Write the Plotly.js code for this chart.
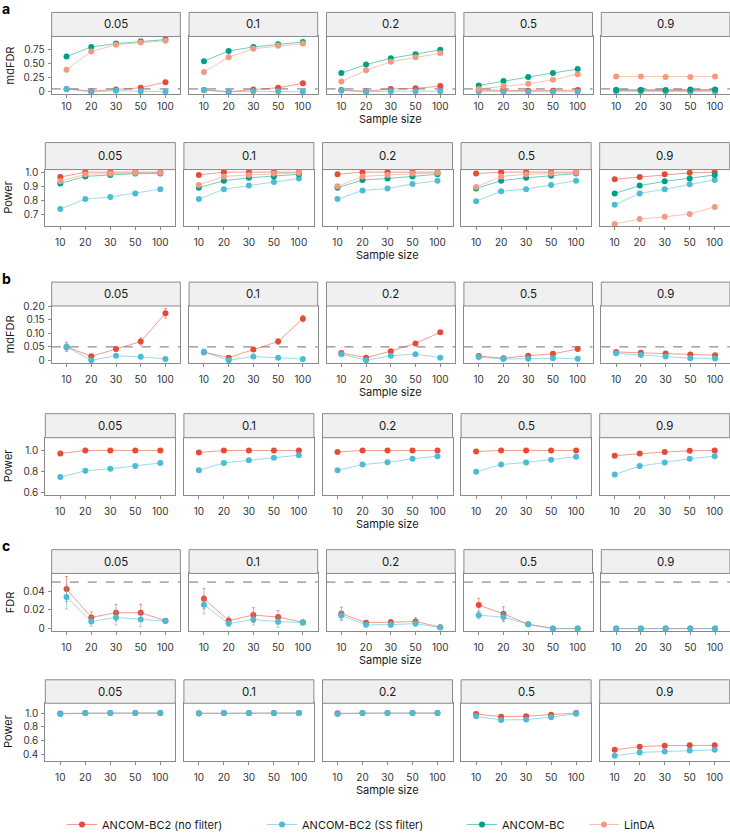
<!DOCTYPE html>
<html><head><meta charset="utf-8">
<script src="https://cdn.plot.ly/plotly-3.0.1.min.js"></script>
<style>html,body{margin:0;padding:0;background:#fff}</style>
</head><body><div id="chart" style="width:730px;height:839px"></div>
<script>
// ---------------- data ----------------
const sampleSizes = ['10', '20', '30', '50', '100'];
const proportions = ['0.05', '0.1', '0.2', '0.5', '0.9'];

// panel a: mdFDR (rows = proportions, cols = sample sizes)
const aFdrNoFilter = [[0.05,0.01,0.04,0.07,0.17],[0.03,0.0,0.04,0.07,0.15],[0.03,0.01,0.05,0.06,0.10],[0.03,0.02,0.02,0.02,0.03],[0.03,0.03,0.02,0.02,0.02]];
const aFdrSS       = [[0.05,0.0,0.02,0.01,0.0],[0.03,0.0,0.01,0.01,0.0],[0.02,0.0,0.01,0.01,0.01],[0.01,0.0,0.0,0.0,0.0],[0.01,0.01,0.01,0.0,0.0]];
const aFdrBC       = [[0.62,0.79,0.85,0.89,0.92],[0.54,0.72,0.79,0.84,0.88],[0.33,0.48,0.59,0.66,0.74],[0.11,0.19,0.26,0.33,0.40],[0.03,0.03,0.03,0.04,0.04]];
const aFdrLinDA    = [[0.39,0.71,0.83,0.87,0.90],[0.35,0.61,0.76,0.81,0.85],[0.18,0.38,0.53,0.61,0.68],[0.05,0.10,0.14,0.21,0.31],[0.27,0.27,0.26,0.26,0.27]];
// panel a: power
const aPowNoFilter = [[0.965,1,1,1,1],[0.98,1,1,1,1],[0.985,1,1,1,1],[0.99,1,1,1,1],[0.95,0.965,0.985,0.995,1.0]];
const aPowSS       = [[0.74,0.81,0.825,0.85,0.88],[0.81,0.88,0.905,0.93,0.955],[0.81,0.87,0.885,0.917,0.94],[0.795,0.865,0.88,0.91,0.94],[0.77,0.85,0.88,0.915,0.945]];
const aPowBC       = [[0.92,0.97,0.98,0.99,0.99],[0.89,0.94,0.96,0.97,0.985],[0.89,0.945,0.955,0.97,0.985],[0.885,0.94,0.96,0.975,0.99],[0.85,0.905,0.935,0.955,0.98]];
const aPowLinDA    = [[0.935,0.985,0.99,0.995,0.995],[0.91,0.97,0.98,0.99,0.995],[0.90,0.97,0.98,0.99,0.995],[0.895,0.97,0.985,0.99,0.995],[0.635,0.67,0.685,0.705,0.755]];
// panel b: mdFDR with error bars
const bFdrNoFilter    = [[0.05,0.015,0.042,0.07,0.175],[0.03,0.01,0.04,0.07,0.155],[0.027,0.01,0.034,0.063,0.104],[0.016,0.008,0.017,0.024,0.042],[0.031,0.028,0.025,0.022,0.019]];
const bFdrNoFilterErr = [[0.015,0.005,0.008,0.014,0.018],[0.01,0.005,0.007,0.01,0.012],[0.005,0.003,0.004,0.005,0.006],[0.004,0.003,0.004,0.004,0.005],[0.004,0.004,0.004,0.004,0.004]];
const bFdrSS          = [[0.05,0.0,0.017,0.013,0.005],[0.032,0.0,0.014,0.01,0.005],[0.023,0.0,0.017,0.023,0.01],[0.012,0.005,0.006,0.008,0.006],[0.026,0.02,0.014,0.008,0.007]];
const bFdrSSErr       = [[0.017,0.003,0.006,0.006,0.003],[0.01,0.002,0.005,0.004,0.003],[0.004,0.002,0.004,0.005,0.003],[0.003,0.002,0.003,0.003,0.003],[0.004,0.003,0.003,0.003,0.003]];
// panel b: power
const bPowNoFilter = [[0.97,1,1,1,1],[0.98,1,1,1,1],[0.985,1,1,1,1],[0.99,1,1,1,1],[0.95,0.97,0.985,0.997,1.0]];
const bPowSS       = [[0.745,0.805,0.825,0.85,0.88],[0.81,0.88,0.905,0.93,0.955],[0.81,0.865,0.887,0.92,0.945],[0.795,0.865,0.885,0.91,0.94],[0.77,0.85,0.885,0.92,0.945]];
// panel c: FDR with error bars
const cFdrNoFilter    = [[0.0425,0.012,0.017,0.017,0.0085],[0.032,0.0085,0.0145,0.0123,0.0067],[0.016,0.0063,0.0067,0.0077,0.0014],[0.0253,0.0158,0.0046,0,0],[0,0,0,0,0]];
const cFdrNoFilterErr = [[0.0135,0.006,0.009,0.009,0.001],[0.011,0.004,0.008,0.007,0.001],[0.007,0.002,0.003,0.004,0.001],[0.0073,0.0077,0.002,0,0],[0,0,0,0,0]];
const cFdrSS          = [[0.034,0.0075,0.012,0.0098,0.008],[0.0256,0.0053,0.0098,0.0074,0.0063],[0.014,0.004,0.0042,0.0053,0.001],[0.0144,0.0123,0.0046,0,0],[0,0,0,0,0]];
const cFdrSSErr       = [[0.013,0.005,0.008,0.008,0.001],[0.01,0.003,0.006,0.006,0.001],[0.005,0.002,0.003,0.003,0.001],[0.004,0.005,0.002,0,0],[0,0,0,0,0]];
// panel c: power
const cPowNoFilter = [[0.995,1,1,1,1],[0.997,1,1,1,1],[0.997,1,1,1,1],[0.985,0.948,0.953,0.976,1.0],[0.466,0.513,0.527,0.532,0.532]];
const cPowSS       = [[0.985,1,1,1,1],[0.995,1,1,1,1],[0.985,1,1,1,1],[0.953,0.90,0.905,0.94,0.99],[0.38,0.428,0.442,0.456,0.466]];

// ---------------- styling / layout ----------------
const FONT = 'Inter, "Noto Sans", Arial, sans-serif';
const W = 730, H = 839;
const styles = {
  nf:    {name: 'ANCOM-BC2 (no filter)', color: '#E64B35', line: 'rgba(230,75,53,0.55)', legend: 'legend'},
  ss:    {name: 'ANCOM-BC2 (SS filter)', color: '#4DBBD5', line: 'rgba(77,187,213,0.55)', legend: 'legend2'},
  bc:    {name: 'ANCOM-BC',              color: '#00A087', line: 'rgba(0,160,135,0.55)', legend: 'legend3'},
  linda: {name: 'LinDA',                 color: '#F39B7F', line: 'rgba(243,155,127,0.6)', legend: 'legend4'}
};
const colsFDR = {left: 51.7, pitch: 137.4, width: 128.6};
const colsPow = {left: 45.3, pitch: 138.6, width: 130};

const rowsDef = [
  {stripTop: 12.7, top: 37.3, bottom: 96.5, cols: colsFDR, range: [-0.047, 0.975], tickvals: [0, 0.25, 0.5, 0.75], ticktext: ['0', '0.25', '0.50', '0.75'], ytitle: 'mdFDR', dash: true,
   series: [['nf', aFdrNoFilter], ['ss', aFdrSS], ['bc', aFdrBC], ['linda', aFdrLinDA]], letter: 'a', standoff: 0, titleOff: 25},
  {stripTop: 145.7, top: 173.3, bottom: 231, cols: colsPow, range: [0.62, 1.018], tickvals: [0.7, 0.8, 0.9, 1.0], ticktext: ['0.7', '0.8', '0.9', '1.0'], ytitle: 'Power',
   series: [['nf', aPowNoFilter], ['ss', aPowSS], ['bc', aPowBC], ['linda', aPowLinDA]], standoff: 4, titleOff: 30},
  {stripTop: 288.3, top: 312.7, bottom: 370.7, cols: colsFDR, range: [-0.009, 0.202], tickvals: [0, 0.05, 0.10, 0.15, 0.20], ticktext: ['0', '0.05', '0.10', '0.15', '0.20'], ytitle: 'mdFDR', dash: true,
   series: [['nf', bFdrNoFilter, bFdrNoFilterErr], ['ss', bFdrSS, bFdrSSErr]], letter: 'b', standoff: 4, titleOff: 30},
  {stripTop: 422.7, top: 447.3, bottom: 505.7, cols: colsPow, range: [0.575, 1.122], tickvals: [0.6, 0.8, 1.0], ticktext: ['0.6', '0.8', '1.0'], ytitle: 'Power',
   series: [['nf', bPowNoFilter], ['ss', bPowSS]], standoff: 4, titleOff: 30},
  {stripTop: 561.7, top: 586, bottom: 644.7, cols: colsFDR, range: [-0.0025, 0.0593], tickvals: [0, 0.02, 0.04], ticktext: ['0', '0.02', '0.04'], ytitle: 'FDR', dash: true,
   series: [['nf', cFdrNoFilter, cFdrNoFilterErr], ['ss', cFdrSS, cFdrSSErr]], letter: 'c', standoff: 4, titleOff: 30},
  {stripTop: 694.7, top: 718.7, bottom: 777.3, cols: colsPow, range: [0.31, 1.142], tickvals: [0.4, 0.6, 0.8, 1.0], ticktext: ['0.4', '0.6', '0.8', '1.0'], ytitle: 'Power',
   series: [['nf', cPowNoFilter], ['ss', cPowSS]], standoff: 4, titleOff: 30}
];

const px = x => x / W;
const py = y => 1 - y / H;

const traces = [];
const layout = {
  width: W, height: H,
  margin: {l: 0, r: 0, t: 0, b: 0},
  paper_bgcolor: '#ffffff', plot_bgcolor: 'rgba(0,0,0,0)',
  font: {family: FONT, size: 10, color: '#222'},
  showlegend: true,
  shapes: [], annotations: []
};

let n = 0;
const legendShown = {};
rowsDef.forEach((row, r) => {
  for (let c = 0; c < 5; c++) {
    n++;
    const xn = n === 1 ? 'x' : 'x' + n;
    const yn = n === 1 ? 'y' : 'y' + n;
    const xk = n === 1 ? 'xaxis' : 'xaxis' + n;
    const yk = n === 1 ? 'yaxis' : 'yaxis' + n;
    const left = row.cols.left + c * row.cols.pitch;
    const right = left + row.cols.width;
    layout[xk] = {
      domain: [px(left), px(right)], anchor: yn,
      type: 'category', categoryorder: 'array', categoryarray: sampleSizes,
      range: [-0.6, 4.6], showgrid: false, zeroline: false,
      showline: true, mirror: true, linecolor: '#8a8a8a', linewidth: 1,
      ticks: 'outside', ticklen: 3, tickcolor: '#8a8a8a', tickwidth: 1,
      ticklabelstandoff: row.standoff,
      tickfont: {family: FONT, size: 10, color: '#333'}, fixedrange: true
    };
    layout[yk] = {
      domain: [py(row.bottom), py(row.top)], anchor: xn,
      range: row.range, tickvals: row.tickvals, ticktext: row.ticktext,
      showgrid: false, zeroline: false,
      showline: true, mirror: true, linecolor: '#8a8a8a', linewidth: 1,
      ticks: c === 0 ? 'outside' : '', ticklen: 3, tickcolor: '#8a8a8a',
      showticklabels: c === 0, ticklabelstandoff: 1,
      tickfont: {family: FONT, size: 10, color: '#333'}, fixedrange: true
    };
    // strip
    layout.shapes.push({type: 'rect', xref: 'paper', yref: 'paper',
      x0: px(left), x1: px(right), y0: py(row.top), y1: py(row.stripTop),
      fillcolor: '#f0f0f0', line: {color: '#8a8a8a', width: 1}, layer: 'above'});
    layout.annotations.push({xref: 'paper', yref: 'paper', x: px((left + right) / 2), y: py((row.top + row.stripTop) / 2),
      text: proportions[c], showarrow: false, xanchor: 'center', yanchor: 'middle',
      font: {family: FONT, size: 11.5, color: '#1a1a1a'}});
    if (row.dash) {
      layout.shapes.push({type: 'line', xref: xn + ' domain', yref: yn, x0: 0, x1: 1, y0: 0.05, y1: 0.05,
        line: {color: '#707070', width: 1, dash: 'dash'}, layer: 'below'});
    }
    row.series.forEach(([key, vals, errs]) => {
      const st = styles[key];
      const t = {
        type: 'scatter', mode: 'lines+markers', x: sampleSizes, y: vals[c],
        xaxis: xn, yaxis: yn, name: st.name, legendgroup: key,
        line: {color: st.line, width: 1},
        marker: {color: st.color, size: 6},
        showlegend: false, cliponaxis: false, hoverinfo: 'skip'
      };
      if (errs) {
        t.error_y = {type: 'data', array: errs[c], visible: true, color: st.line, thickness: 1, width: 1.5};
      }
      if (!legendShown[key]) {
        legendShown[key] = true;
        t.showlegend = true;
        t.legend = st.legend;
      }
      traces.push(t);
    });
  }
  // y-axis title
  layout.annotations.push({xref: 'paper', yref: 'paper', x: px(row.cols === colsFDR ? 10 : 8), y: py((row.top + row.bottom) / 2),
    text: row.ytitle, textangle: -90, showarrow: false, xanchor: 'center', yanchor: 'middle',
    font: {family: FONT, size: 11, color: '#1a1a1a'}});
  // x-axis title
  const midL = row.cols.left + 2 * row.cols.pitch;
  layout.annotations.push({xref: 'paper', yref: 'paper', x: px(midL + row.cols.width / 2), y: py(row.bottom + row.titleOff),
    text: 'Sample size', showarrow: false, xanchor: 'center', yanchor: 'middle',
    font: {family: FONT, size: 11, color: '#1a1a1a'}});
  if (row.letter) {
    layout.annotations.push({xref: 'paper', yref: 'paper', x: px(0), y: py(row.stripTop - 4),
      text: '<b>' + row.letter + '</b>', showarrow: false, xanchor: 'left', yanchor: 'middle',
      font: {family: FONT, size: 14, color: '#000'}});
  }
});

// legends (one per series so the horizontal spacing follows the reference)
const legendTextStarts = {legend: 100, legend2: 300, legend3: 500, legend4: 622};
Object.keys(legendTextStarts).forEach(k => {
  layout[k] = {x: px(legendTextStarts[k] - 38), y: py(828), xanchor: 'left', yanchor: 'top',
    orientation: 'h', bgcolor: 'rgba(0,0,0,0)', borderwidth: 0, itemwidth: 30,
    font: {family: FONT, size: 11, color: '#1a1a1a'}};
});

Plotly.newPlot('chart', traces, layout, {displayModeBar: false, staticPlot: true});
</script></body></html>
